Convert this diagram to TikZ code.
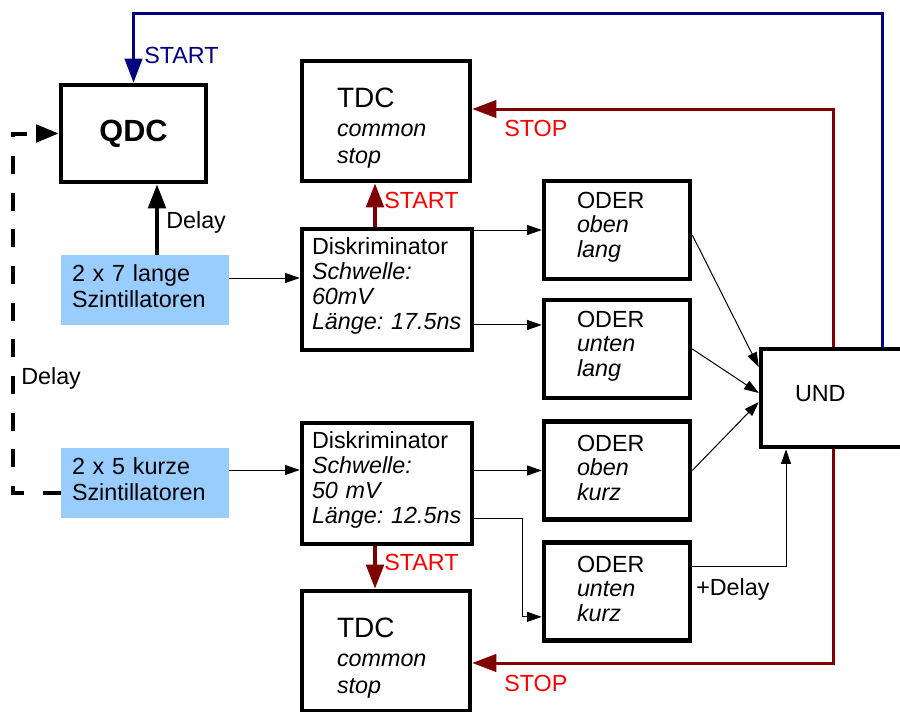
\documentclass[tikz,border=0pt]{standalone}
\usepackage{fontspec}
\setmainfont{Liberation Sans}
\usepackage{xcolor}
\usetikzlibrary{arrows.meta,positioning}
\definecolor{startblue}{HTML}{000080}
\definecolor{stopred}{HTML}{800000}
\definecolor{signalred}{HTML}{FF0000}
\definecolor{scintblue}{HTML}{99CCFF}
\tikzset{
    unit-box/.style = {draw=black, fill=white, line width=3.4pt, rectangle, align=left, font=\fontsize{17.5}{18.75}\selectfont},
    qdc-box/.style = {unit-box, minimum width=108.75pt, minimum height=72.75pt, align=center, font=\fontsize{23}{26}\selectfont\bfseries},
    tdc-box/.style = {unit-box, text width=73.5pt, inner xsep=26.25pt, minimum height=90pt, text height=25pt, font=\fontsize{17.5}{20.25}\selectfont},
    disc-box/.style = {unit-box, text width=112.5pt, inner xsep=7.5pt, minimum height=90.75pt, text height=8pt},
    oder-box/.style = {unit-box, text width=60pt, inner xsep=24.75pt, minimum height=73.5pt, text height=8pt, font=\fontsize{17.5}{18.4}\selectfont},
    und-box/.style = {unit-box, text width=57pt, inner xsep=25.5pt, minimum height=73.5pt, text height=5pt},
    scint-box/.style = {fill=scintblue, rectangle, align=left, text width=109.5pt, inner xsep=8.25pt, minimum height=52.5pt, text height=6.8pt, font=\fontsize{17.5}{20}\selectfont},
    sig/.style = {line width=0.75pt, -{Triangle[length=11pt, width=7.5pt]}},
    start-arrow/.style = {stopred, line width=3pt, -{Triangle[length=18pt, width=13pt]}},
    start-line/.style = {startblue, line width=2.25pt, -{Triangle[length=18pt, width=13pt]}},
    stop-line/.style = {stopred, line width=2.25pt, -{Triangle[length=18pt, width=13pt]}},
    delay-arrow/.style = {black, line width=3pt, -{Triangle[length=18pt, width=13pt]}},
    delay-dash/.style = {black, line width=3pt, dash pattern=on 13.5pt off 14pt, -{Triangle[length=17pt, width=13pt]}},
    tag/.style = {inner sep=0pt, anchor=west, font=\fontsize{17.5}{20}\selectfont},
}
\newcommand{\tdctitle}{{\fontsize{21}{21.75}\selectfont TDC}\\[1.5pt]}

\begin{document}
\begin{tikzpicture}[x=0.75pt, y=-0.75pt]
\useasboundingbox (0,0) rectangle (900,711);

% Szintillatoren
\node[scint-box] (lang) at (145,290) {2 x 7 lange\\Szintillatoren};
\node[scint-box] (kurz) at (145,483) {2 x 5 kurze\\Szintillatoren};

% Module
\node[qdc-box] (qdc) at (133.5,133.5) {QDC};
\node[tdc-box] (tdc-oben) at (386,121) {\tdctitle\textit{common}\\\textit{stop}};
\node[tdc-box] (tdc-unten) at (386,651) {\tdctitle\textit{common}\\\textit{stop}};
\node[disc-box] (disc-lang) at (387,289.5) {Diskriminator\\\textit{Schwelle:}\\\textit{60mV}\\\textit{Länge:~17.5ns}};
\node[disc-box] (disc-kurz) at (387,483.5) {Diskriminator\\\textit{Schwelle:}\\\textit{50~mV}\\\textit{Länge:~12.5ns}};
\node[oder-box] (oder-ol) at (617,230) {ODER\\\textit{oben}\\\textit{lang}};
\node[oder-box] (oder-ul) at (617,349) {ODER\\\textit{unten}\\\textit{lang}};
\node[oder-box] (oder-ok) at (617,470.5) {ODER\\\textit{oben}\\\textit{kurz}};
\node[oder-box] (oder-uk) at (617,591.5) {ODER\\\textit{unten}\\\textit{kurz}};
\node[und-box] (und) at (833,398) {UND};

\coordinate (top) at (500,13);
\coordinate (delay-left) at (13,300);

% Signale
\draw[sig] ([yshift=9pt]lang.east) -- ([yshift=9pt]lang.east -| disc-lang.west);
\draw[sig] ([yshift=9.75pt]kurz.east) -- ([yshift=9.75pt]kurz.east -| disc-kurz.west);
\draw[sig] (oder-ol.west -| disc-lang.east) -- (oder-ol.west);
\draw[sig] ([yshift=-26.6pt]disc-lang.east) -- ([yshift=-26.6pt]disc-lang.east -| oder-ul.west);
\draw[sig] (oder-ok.west -| disc-kurz.east) -- (oder-ok.west);
\draw[sig] ([yshift=-26.6pt]disc-kurz.east) -- ++(36pt,0) |- ([yshift=-19pt]oder-uk.west);
\draw[sig] ([yshift=-3.75pt]oder-ol.east) -- ([yshift=23.25pt]und.west);
\draw[sig] (oder-ul.east) -- ([yshift=3.75pt]und.west);
\draw[sig] (oder-ok.east) -- ([yshift=-3pt]und.west);
\draw[sig] ([yshift=18.4pt]oder-uk.east) -| ([xshift=-35.25pt]und.south);

% START / STOP
\draw[start-arrow] ([xshift=-9pt]disc-lang.north) -- ([xshift=-9pt]disc-lang.north |- tdc-oben.south);
\draw[start-arrow] ([xshift=-9pt]disc-kurz.south) -- ([xshift=-9pt]disc-kurz.south |- tdc-unten.north);
\draw[stop-line] (und.north) |- ([yshift=9pt]tdc-oben.east);
\draw[stop-line] (und.south) |- ([yshift=-9pt]tdc-unten.east);
\draw[start-line] ([xshift=36.75pt]und.north) |- (top) -| (qdc.north);

% Delay
\draw[delay-arrow] ([xshift=9pt]lang.north) -- ([xshift=9pt]lang.north |- qdc.south);
\draw[delay-dash] ([yshift=-7.5pt]kurz.west) -| (delay-left) |- (qdc.west);

% Beschriftungen
\node[tag, startblue] (start-qdc) at (144,55) {START};
\node[tag] (delay-qdc) at (166,222) {Delay};
\node[tag] (delay-dashed) at (21,378) {Delay};
\node[tag, signalred] (start-oben) at (384,200) {START};
\node[tag, signalred] (start-unten) at (384,562) {START};
\node[tag, signalred] (stop-oben) at (504,128) {STOP};
\node[tag, signalred] (stop-unten) at (504,683) {STOP};
\node[tag] (plus-delay) at (696,589) {+Delay};
\end{tikzpicture}
\end{document}
